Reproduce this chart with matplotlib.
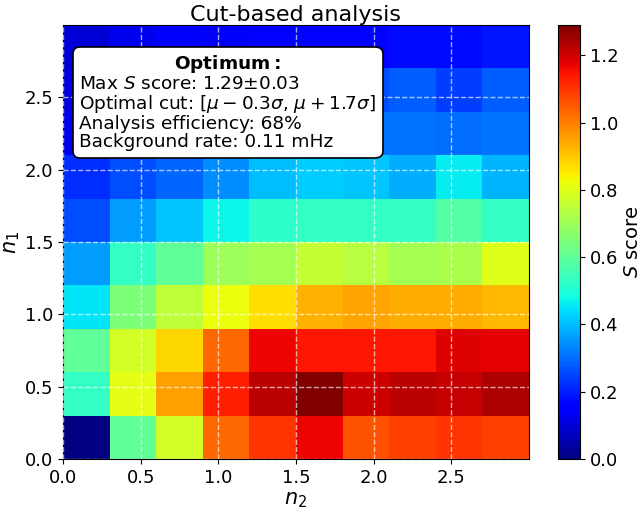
import numpy as np
import matplotlib
matplotlib.use("Agg")
import matplotlib.pyplot as plt
from matplotlib.offsetbox import TextArea, VPacker, AnchoredOffsetbox

# bin edges (n2 along x, n1 along y)
n2_edges = [0.0, 0.3, 0.6, 0.9, 1.2, 1.5, 1.8, 2.1, 2.4, 2.7, 3.0]
n1_edges = [0.0, 0.3, 0.6, 0.9, 1.2, 1.5, 1.8, 2.1, 2.4, 2.7, 3.0]

# S score per n1 row (bottom to top), values along n2
row_n1_0 = [0.00, 0.60, 0.78, 1.03, 1.10, 1.165, 1.06, 1.085, 1.10, 1.085]
row_n1_1 = [0.53, 0.81, 0.955, 1.13, 1.22, 1.29, 1.20, 1.22, 1.21, 1.235]
row_n1_2 = [0.60, 0.78, 0.88, 1.03, 1.165, 1.14, 1.14, 1.14, 1.18, 1.175]
row_n1_3 = [0.45, 0.65, 0.75, 0.82, 0.87, 0.93, 0.95, 0.94, 0.94, 0.92]
row_n1_4 = [0.36, 0.53, 0.60, 0.70, 0.71, 0.76, 0.74, 0.71, 0.72, 0.80]
row_n1_5 = [0.26, 0.36, 0.41, 0.47, 0.52, 0.53, 0.53, 0.53, 0.58, 0.53]
row_n1_6 = [0.22, 0.26, 0.29, 0.34, 0.40, 0.42, 0.41, 0.38, 0.46, 0.39]
row_n1_7 = [0.13, 0.20, 0.22, 0.25, 0.28, 0.30, 0.31, 0.31, 0.30, 0.31]
row_n1_8 = [0.11, 0.17, 0.19, 0.21, 0.23, 0.25, 0.26, 0.28, 0.24, 0.28]
row_n1_9 = [0.10, 0.13, 0.15, 0.14, 0.165, 0.165, 0.165, 0.175, 0.175, 0.19]

box_title = r"$\bf{Optimum:}$"
info_lines = [
    "Max $S$ score: 1.29±0.03",
    r"Optimal cut: [$\mu-0.3\sigma$, $\mu+1.7\sigma$]",
    "Analysis efficiency: 68%",
    "Background rate: 0.11 mHz",
]

Z = np.array([row_n1_0, row_n1_1, row_n1_2, row_n1_3, row_n1_4,
              row_n1_5, row_n1_6, row_n1_7, row_n1_8, row_n1_9])

W, H = 642, 513
fig = plt.figure(figsize=(W / 100, H / 100), dpi=100)
ax = fig.add_axes([63 / W, 54 / H, 466 / W, 434 / H])
cax = fig.add_axes([558 / W, 54 / H, 22 / W, 434 / H])

mesh = ax.pcolormesh(n2_edges, n1_edges, Z, cmap="jet", vmin=0, vmax=Z.max())
ax.set_xlim(0, 2.9999)
ax.set_ylim(0, 2.9999)
ax.set_xticks([0.0, 0.5, 1.0, 1.5, 2.0, 2.5])
ax.set_yticks([0.0, 0.5, 1.0, 1.5, 2.0, 2.5])
ax.grid(True, color="white", linestyle="--", linewidth=1.0, alpha=0.65)
ax.set_axisbelow(False)
ax.tick_params(labelsize=13)
ax.set_xlabel("$n_2$", fontsize=15, labelpad=2)
ax.set_ylabel("$n_1$", fontsize=15, labelpad=2)
ax.set_title("Cut-based analysis", fontsize=16, pad=3)

cb = fig.colorbar(mesh, cax=cax)
cb.set_ticks([0.0, 0.2, 0.4, 0.6, 0.8, 1.0, 1.2])
cb.ax.tick_params(labelsize=13)
cb.set_label("$S$ score", fontsize=14, labelpad=3)

fs = 13.3
title_area = TextArea(box_title, textprops=dict(fontsize=fs))
body_area = TextArea("\n".join(info_lines),
                     textprops=dict(fontsize=fs, linespacing=1.0))
packed = VPacker(children=[title_area, body_area], align="center", pad=0, sep=0)
anch = AnchoredOffsetbox(loc="upper left", child=packed, pad=0.35, borderpad=0,
                         frameon=True, prop=dict(size=fs),
                         bbox_to_anchor=((73 - 63) / 466, (459 - 47) / 434),
                         bbox_transform=ax.transAxes)
anch.patch.set_boxstyle("round,pad=0,rounding_size=0.4")
anch.patch.set_facecolor("white")
anch.patch.set_edgecolor("black")
anch.patch.set_linewidth(1.2)
ax.add_artist(anch)

fig.savefig("out.png", dpi=100)
